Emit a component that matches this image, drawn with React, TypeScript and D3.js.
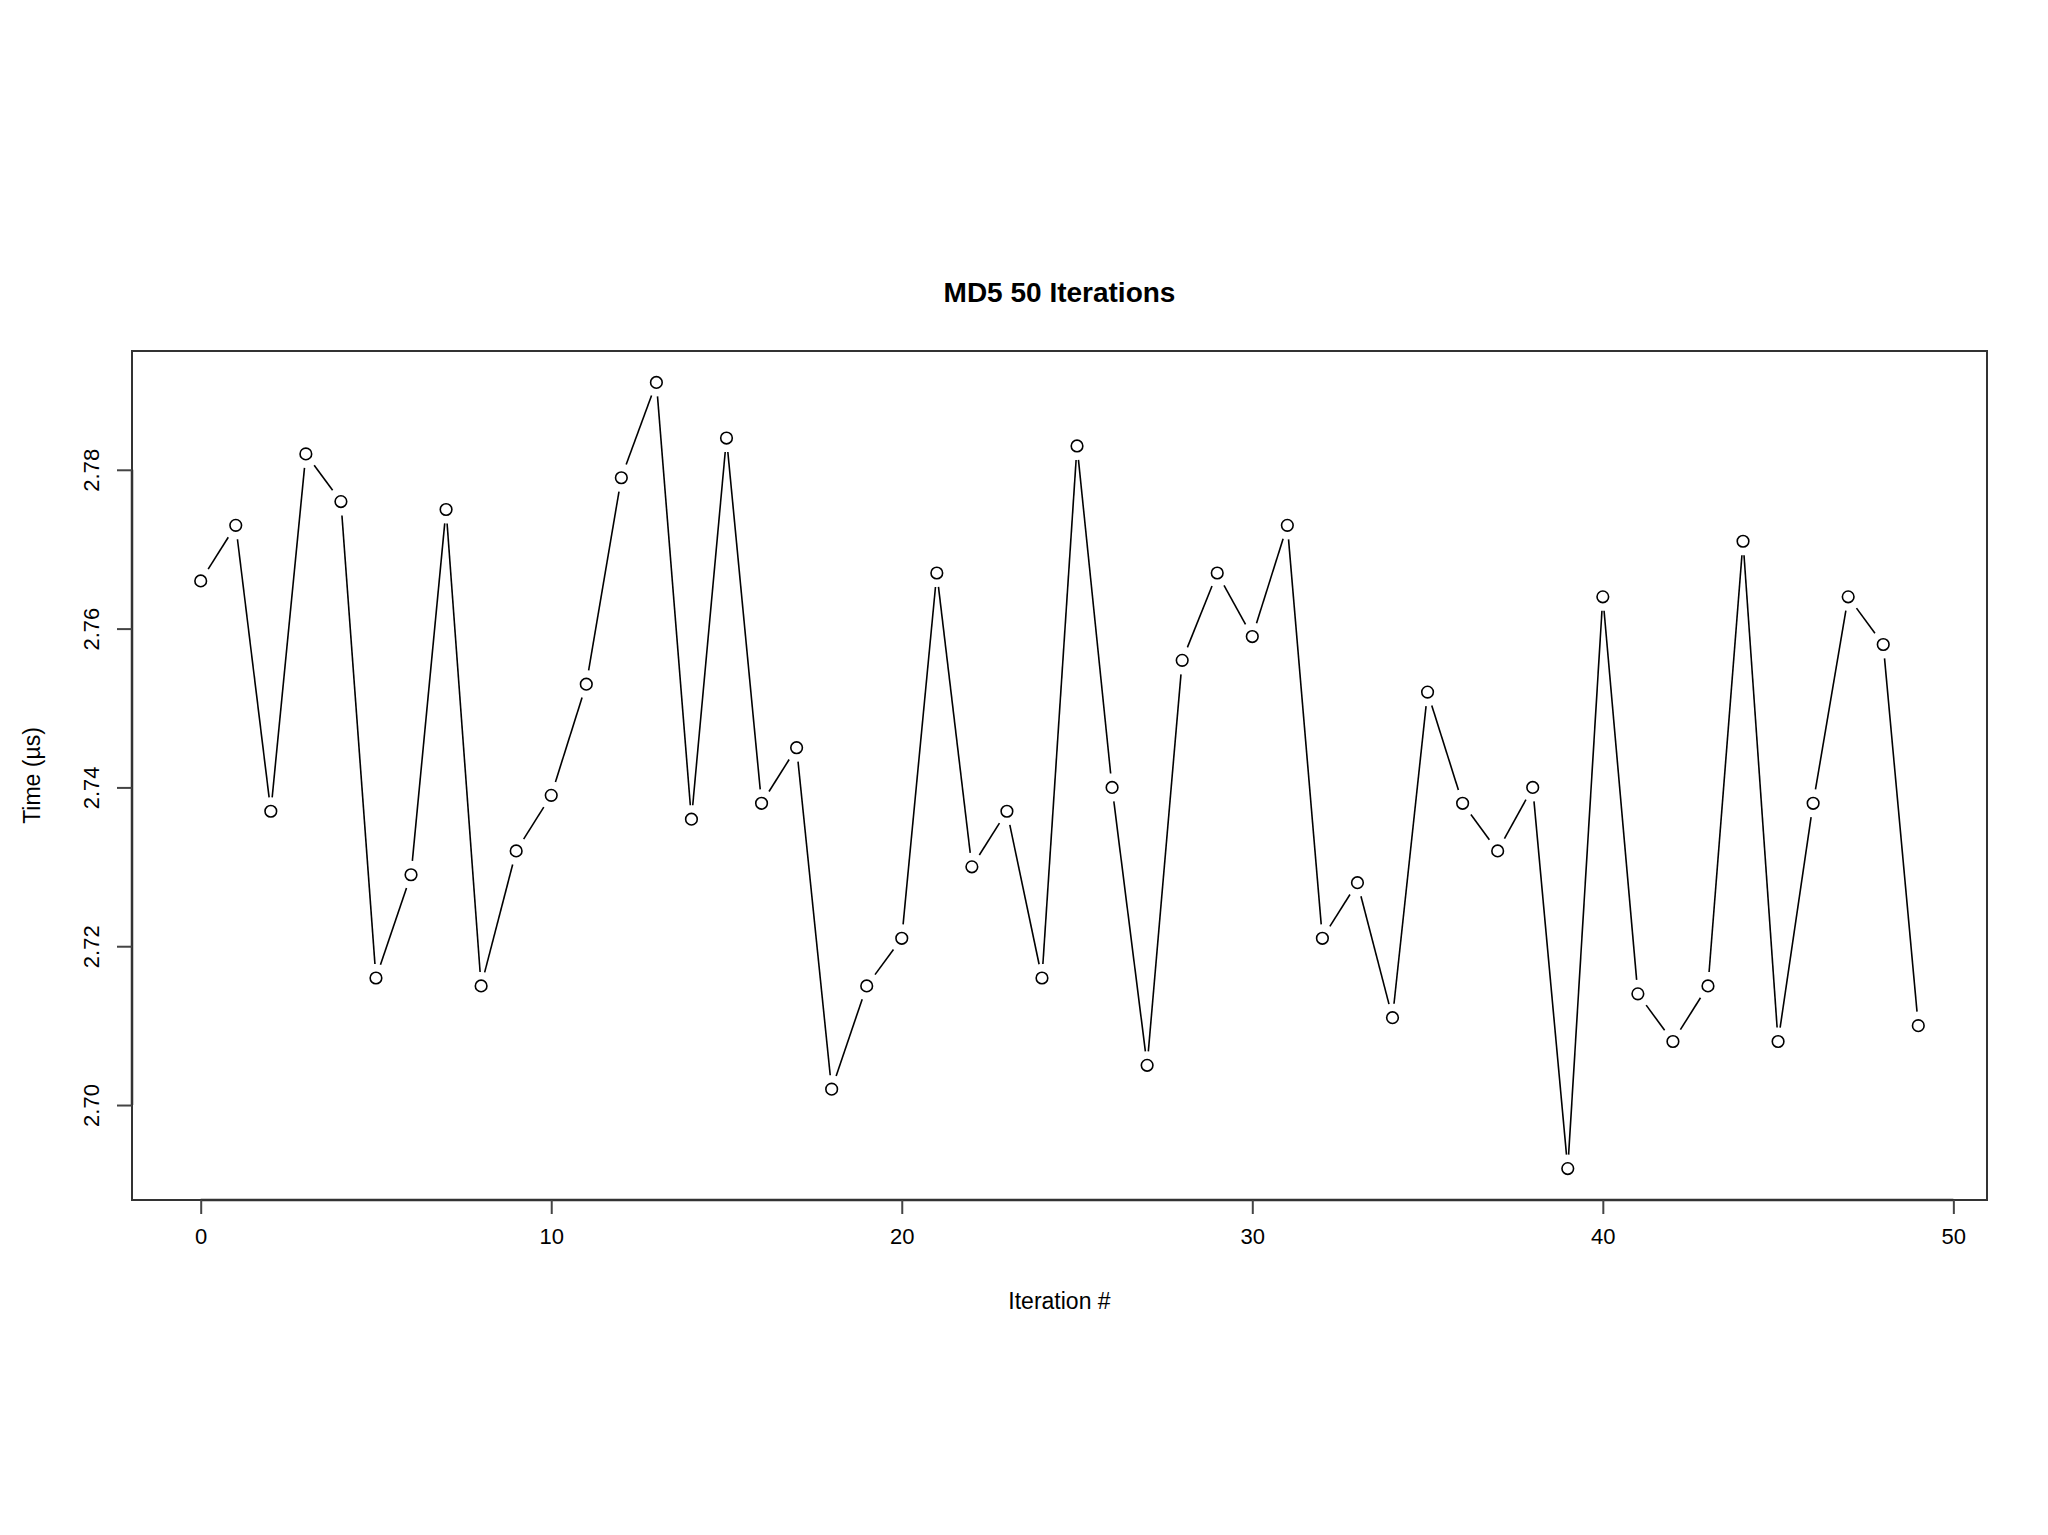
import { useEffect, useRef } from "react";
import * as d3 from "d3";

// Tempos medidos para cada iteração (µs)
const iterations = d3.range(0, 50);
const times = [
  2.766, 2.773, 2.737, 2.782, 2.776, 2.716, 2.729, 2.775, 2.715, 2.732,
  2.739, 2.753, 2.779, 2.791, 2.736, 2.784, 2.738, 2.745, 2.702, 2.715,
  2.721, 2.767, 2.73, 2.737, 2.716, 2.783, 2.74, 2.705, 2.756, 2.767,
  2.759, 2.773, 2.721, 2.728, 2.711, 2.752, 2.738, 2.732, 2.74, 2.692,
  2.764, 2.714, 2.708, 2.715, 2.771, 2.708, 2.738, 2.764, 2.758, 2.71,
];
const xTicks = [0, 10, 20, 30, 40, 50];
const yTicks = [2.7, 2.72, 2.74, 2.76, 2.78];

const width = 2048;
const height = 1535;
const margin = { top: 351, right: 61, bottom: 335, left: 132 };
const font = "'Liberation Sans', Arial, Helvetica, sans-serif";

// extensão de 4% como no R
const pad = ([a, b]: [number, number]) => {
  const d = (b - a) * 0.04;
  return [a - d, b + d];
};

export const MD5Plot = () => {
  const svgRef = useRef<SVGSVGElement>(null);

  useEffect(() => {
    const boundsWidth = width - margin.left - margin.right;
    const boundsHeight = height - margin.top - margin.bottom;

    const svg = d3.select(svgRef.current);
    svg.selectAll("*").remove();

    const xScale = d3
      .scaleLinear()
      .domain(pad(d3.extent(iterations) as [number, number]))
      .range([0, boundsWidth]);
    const yScale = d3
      .scaleLinear()
      .domain(pad(d3.extent(times) as [number, number]))
      .range([boundsHeight, 0]);

    const g = svg
      .append("g")
      .attr("transform", `translate(${margin.left},${margin.top})`);

    // Caixa
    g.append("rect")
      .attr("width", boundsWidth)
      .attr("height", boundsHeight)
      .attr("fill", "none")
      .attr("stroke", "#333")
      .attr("stroke-width", 2);

    // Eixo X
    const xAxis = g
      .append("g")
      .attr("transform", `translate(0,${boundsHeight})`)
      .call(d3.axisBottom(xScale).tickValues(xTicks).tickSize(14).tickSizeOuter(0).tickPadding(14));
    xAxis.select(".domain").attr("stroke", "#333").attr("stroke-width", 2.5)
      .attr("d", `M${xScale(0)},0H${xScale(50)}`);
    xAxis.selectAll("line").attr("stroke", "#444").attr("stroke-width", 2);
    xAxis.selectAll("text").attr("font-family", font).attr("font-size", 22).attr("fill", "#000");

    // Eixo Y
    const yAxis = g
      .append("g")
      .call(d3.axisLeft(yScale).tickValues(yTicks).tickFormat(d3.format(".2f")).tickSize(15).tickSizeOuter(0));
    yAxis.select(".domain").attr("stroke", "#333").attr("stroke-width", 2.5)
      .attr("d", `M0,${yScale(2.7)}V${yScale(2.78)}`);
    yAxis.selectAll("line").attr("stroke", "#444").attr("stroke-width", 2);
    yAxis.selectAll("text")
      .attr("font-family", font)
      .attr("font-size", 22)
      .attr("fill", "#000")
      .attr("x", null)
      .attr("dy", null)
      .attr("text-anchor", "middle")
      .attr("transform", "translate(-33,0) rotate(-90)");

    // Linhas (type = "b": segmentos com intervalo em torno dos pontos)
    const gap = 14;
    const pts = iterations.map((d, i) => [xScale(d), yScale(times[i])]);
    const segs = d3.pairs(pts).filter(([a, b]) => Math.hypot(b[0] - a[0], b[1] - a[1]) > 2 * gap);
    g.selectAll(".seg")
      .data(segs)
      .enter()
      .append("line")
      .attr("class", "seg")
      .each(function ([a, b]) {
        const len = Math.hypot(b[0] - a[0], b[1] - a[1]);
        const ux = (b[0] - a[0]) / len;
        const uy = (b[1] - a[1]) / len;
        d3.select(this)
          .attr("x1", a[0] + ux * gap)
          .attr("y1", a[1] + uy * gap)
          .attr("x2", b[0] - ux * gap)
          .attr("y2", b[1] - uy * gap);
      })
      .attr("stroke", "#000")
      .attr("stroke-width", 1.6);

    // Pontos
    g.selectAll(".dot")
      .data(iterations)
      .enter()
      .append("circle")
      .attr("cx", (d) => xScale(d))
      .attr("cy", (d, i) => yScale(times[i]))
      .attr("r", 5.8)
      .attr("fill", "none")
      .attr("stroke", "#000")
      .attr("stroke-width", 1.6);

    // Títulos
    svg.append("text")
      .attr("x", margin.left + boundsWidth / 2)
      .attr("y", 302)
      .attr("text-anchor", "middle")
      .attr("font-family", font)
      .attr("font-weight", "bold")
      .attr("font-size", 28)
      .text("MD5 50 Iterations");

    svg.append("text")
      .attr("x", margin.left + boundsWidth / 2)
      .attr("y", 1309)
      .attr("text-anchor", "middle")
      .attr("font-family", font)
      .attr("font-size", 23)
      .text("Iteration #");

    svg.append("text")
      .attr("transform", `translate(40,${margin.top + boundsHeight / 2}) rotate(-90)`)
      .attr("text-anchor", "middle")
      .attr("font-family", font)
      .attr("font-size", 23)
      .text("Time (µs)");
  }, []);

  return <svg ref={svgRef} width={width} height={height} style={{ display: "block", background: "#fff" }}></svg>;
};

export default function App() {
  return (
    <div style={{ position: "absolute", left: 0, top: 0 }}>
      <MD5Plot />
    </div>
  );
}
